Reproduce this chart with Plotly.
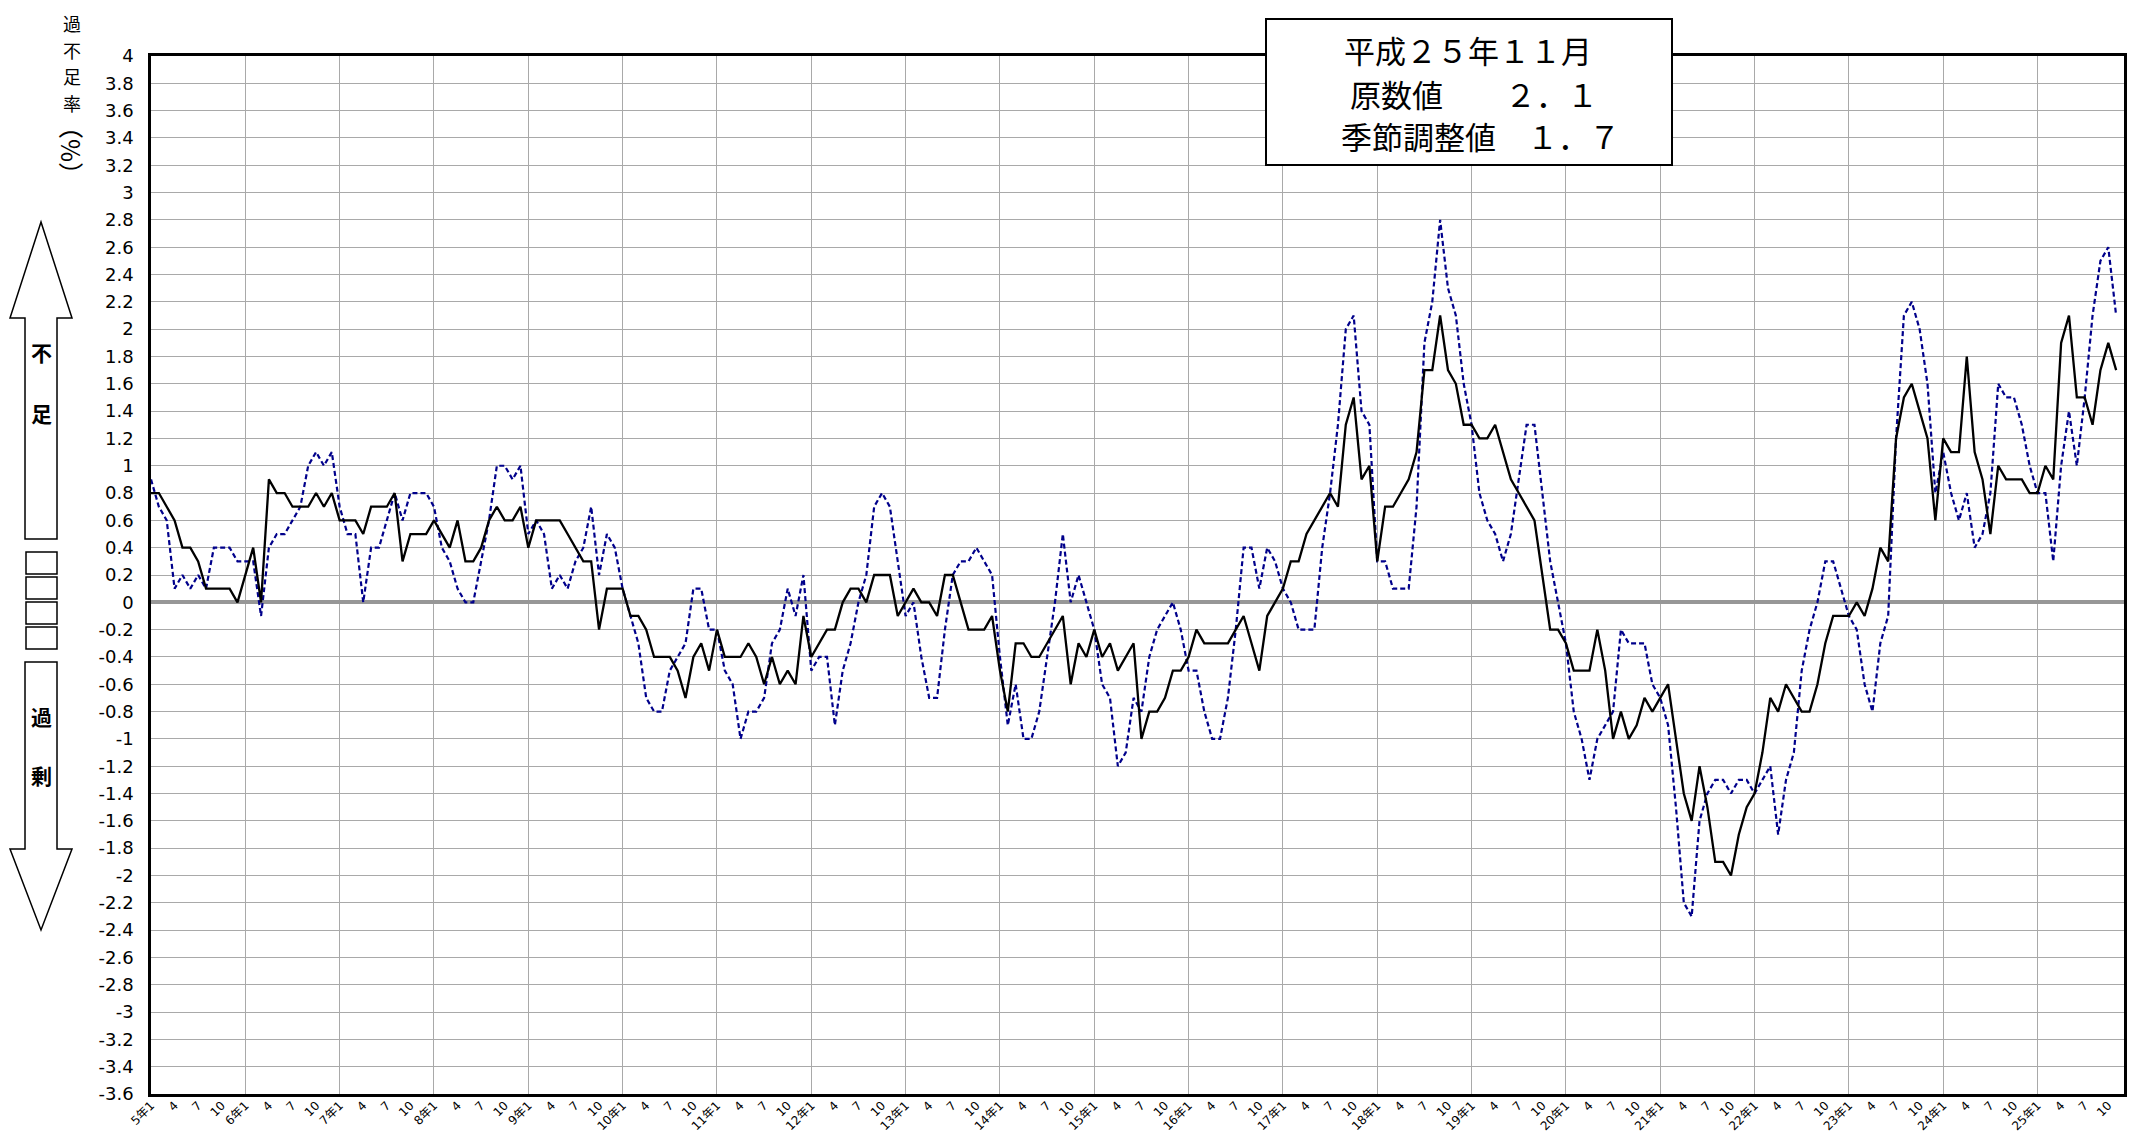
import plotly.graph_objects as go

# ---------------- data (平成5年1月 〜 平成25年11月, monthly) ----------------
YEARS = list(range(5, 26))          # 平成 years
LAST_MONTH = 11                     # data ends 平成25年11月

MONTH_LABELS = [f"{y}年{m}" for y in YEARS for m in range(1, 13)
                if not (y == YEARS[-1] and m > LAST_MONTH)]

# 季節調整値 (solid black)
SEASONAL = [
    0.8, 0.8, 0.7, 0.6, 0.4, 0.4, 0.3, 0.1, 0.1, 0.1, 0.1, 0.0,        # 5年
    0.2, 0.4, 0.0, 0.9, 0.8, 0.8, 0.7, 0.7, 0.7, 0.8, 0.7, 0.8,        # 6年
    0.6, 0.6, 0.6, 0.5, 0.7, 0.7, 0.7, 0.8, 0.3, 0.5, 0.5, 0.5,        # 7年
    0.6, 0.5, 0.4, 0.6, 0.3, 0.3, 0.4, 0.6, 0.7, 0.6, 0.6, 0.7,        # 8年
    0.4, 0.6, 0.6, 0.6, 0.6, 0.5, 0.4, 0.3, 0.3, -0.2, 0.1, 0.1,       # 9年
    0.1, -0.1, -0.1, -0.2, -0.4, -0.4, -0.4, -0.5, -0.7, -0.4, -0.3, -0.5,  # 10年
    -0.2, -0.4, -0.4, -0.4, -0.3, -0.4, -0.6, -0.4, -0.6, -0.5, -0.6, -0.1,  # 11年
    -0.4, -0.3, -0.2, -0.2, 0.0, 0.1, 0.1, 0.0, 0.2, 0.2, 0.2, -0.1,   # 12年
    0.0, 0.1, 0.0, 0.0, -0.1, 0.2, 0.2, 0.0, -0.2, -0.2, -0.2, -0.1,   # 13年
    -0.5, -0.8, -0.3, -0.3, -0.4, -0.4, -0.3, -0.2, -0.1, -0.6, -0.3, -0.4,  # 14年
    -0.2, -0.4, -0.3, -0.5, -0.4, -0.3, -1.0, -0.8, -0.8, -0.7, -0.5, -0.5,  # 15年
    -0.4, -0.2, -0.3, -0.3, -0.3, -0.3, -0.2, -0.1, -0.3, -0.5, -0.1, 0.0,   # 16年
    0.1, 0.3, 0.3, 0.5, 0.6, 0.7, 0.8, 0.7, 1.3, 1.5, 0.9, 1.0,        # 17年
    0.3, 0.7, 0.7, 0.8, 0.9, 1.1, 1.7, 1.7, 2.1, 1.7, 1.6, 1.3,        # 18年
    1.3, 1.2, 1.2, 1.3, 1.1, 0.9, 0.8, 0.7, 0.6, 0.2, -0.2, -0.2,      # 19年
    -0.3, -0.5, -0.5, -0.5, -0.2, -0.5, -1.0, -0.8, -1.0, -0.9, -0.7, -0.8,  # 20年
    -0.7, -0.6, -1.0, -1.4, -1.6, -1.2, -1.5, -1.9, -1.9, -2.0, -1.7, -1.5,  # 21年
    -1.4, -1.1, -0.7, -0.8, -0.6, -0.7, -0.8, -0.8, -0.6, -0.3, -0.1, -0.1,  # 22年
    -0.1, 0.0, -0.1, 0.1, 0.4, 0.3, 1.2, 1.5, 1.6, 1.4, 1.2, 0.6,      # 23年
    1.2, 1.1, 1.1, 1.8, 1.1, 0.9, 0.5, 1.0, 0.9, 0.9, 0.9, 0.8,        # 24年
    0.8, 1.0, 0.9, 1.9, 2.1, 1.5, 1.5, 1.3, 1.7, 1.9, 1.7,             # 25年
]

# 原数値 (dashed navy)
ORIGINAL = [
    0.9, 0.7, 0.6, 0.1, 0.2, 0.1, 0.2, 0.1, 0.4, 0.4, 0.4, 0.3,        # 5年
    0.3, 0.3, -0.1, 0.4, 0.5, 0.5, 0.6, 0.7, 1.0, 1.1, 1.0, 1.1,       # 6年
    0.7, 0.5, 0.5, 0.0, 0.4, 0.4, 0.6, 0.8, 0.6, 0.8, 0.8, 0.8,        # 7年
    0.7, 0.4, 0.3, 0.1, 0.0, 0.0, 0.3, 0.6, 1.0, 1.0, 0.9, 1.0,        # 8年
    0.5, 0.6, 0.5, 0.1, 0.2, 0.1, 0.3, 0.4, 0.7, 0.2, 0.5, 0.4,        # 9年
    0.1, -0.1, -0.3, -0.7, -0.8, -0.8, -0.5, -0.4, -0.3, 0.1, 0.1, -0.2,     # 10年
    -0.2, -0.5, -0.6, -1.0, -0.8, -0.8, -0.7, -0.3, -0.2, 0.1, -0.1, 0.2,    # 11年
    -0.5, -0.4, -0.4, -0.9, -0.5, -0.3, 0.0, 0.2, 0.7, 0.8, 0.7, 0.3,  # 12年
    -0.1, 0.0, -0.4, -0.7, -0.7, -0.2, 0.2, 0.3, 0.3, 0.4, 0.3, 0.2,   # 13年
    -0.4, -0.9, -0.6, -1.0, -1.0, -0.8, -0.4, 0.0, 0.5, 0.0, 0.2, 0.0, # 14年
    -0.2, -0.6, -0.7, -1.2, -1.1, -0.7, -0.8, -0.4, -0.2, -0.1, 0.0, -0.2,   # 15年
    -0.5, -0.5, -0.8, -1.0, -1.0, -0.7, -0.2, 0.4, 0.4, 0.1, 0.4, 0.3, # 16年
    0.1, 0.0, -0.2, -0.2, -0.2, 0.4, 0.8, 1.3, 2.0, 2.1, 1.4, 1.3,     # 17年
    0.3, 0.3, 0.1, 0.1, 0.1, 0.7, 1.9, 2.2, 2.8, 2.3, 2.1, 1.6,        # 18年
    1.3, 0.8, 0.6, 0.5, 0.3, 0.5, 0.9, 1.3, 1.3, 0.8, 0.3, 0.0,        # 19年
    -0.3, -0.8, -1.0, -1.3, -1.0, -0.9, -0.8, -0.2, -0.3, -0.3, -0.3, -0.6,  # 20年
    -0.7, -0.9, -1.5, -2.2, -2.3, -1.6, -1.4, -1.3, -1.3, -1.4, -1.3, -1.3,  # 21年
    -1.4, -1.3, -1.2, -1.7, -1.3, -1.1, -0.5, -0.2, 0.0, 0.3, 0.3, 0.1,      # 22年
    -0.1, -0.2, -0.6, -0.8, -0.3, -0.1, 1.2, 2.1, 2.2, 2.0, 1.6, 0.8,  # 23年
    1.1, 0.8, 0.6, 0.8, 0.4, 0.5, 0.8, 1.6, 1.5, 1.5, 1.3, 1.0,        # 24年
    0.8, 0.8, 0.3, 1.0, 1.4, 1.0, 1.5, 2.1, 2.5, 2.6, 2.1,             # 25年
]

assert len(SEASONAL) == len(MONTH_LABELS) == len(ORIGINAL)

X_IDX = list(range(len(MONTH_LABELS)))
# quarterly tick labels: "5年1", "4", "7", "10", "6年1", ...
X_TICKVALS = [i for i, lab in enumerate(MONTH_LABELS) if int(lab.split("年")[1]) in (1, 4, 7, 10)]
X_TICKTEXT = [MONTH_LABELS[i] if MONTH_LABELS[i].endswith("年1") else MONTH_LABELS[i].split("年")[1]
              for i in X_TICKVALS]
YEAR_STARTS = [i for i, lab in enumerate(MONTH_LABELS) if lab.endswith("年1")]

Y_MIN, Y_MAX = -3.6, 4.0
Y_TICKVALS = [round(Y_MIN + 0.2 * k, 1) for k in range(39)]
Y_TICKTEXT = [f"{v:g}" for v in Y_TICKVALS]

BOX_TEXT = ["平成２５年１１月", "原数値　　２．１", "季節調整値　１．７"]
Y_TITLE_CHARS = ["過", "不", "足", "率"]

# ---------------- layout geometry (pixels) ----------------
W, H = 2139, 1133
L, R, T, B = 151, 2124, 56, 1094


def px(xp):
    return (xp - L) / (R - L)


def py(yp):
    return (B - yp) / (B - T)


FONT = "DejaVu Sans, Noto Sans CJK JP, sans-serif"
JFONT = "Noto Sans CJK JP, sans-serif"
GRID = "#a9a9a9"

fig = go.Figure()
fig.add_trace(go.Scatter(
    x=X_IDX, y=ORIGINAL, mode="lines", name="原数値",
    line=dict(color="#00008b", width=2.2, dash="5px,3px"),
))
fig.add_trace(go.Scatter(
    x=X_IDX, y=SEASONAL, mode="lines", name="季節調整値",
    line=dict(color="black", width=2.3),
))
# empty trace on helper axis (yearly vertical gridlines)
fig.add_trace(go.Scatter(x=[], y=[], xaxis="x2", yaxis="y", showlegend=False, hoverinfo="skip"))


def path(points):
    return "M " + " L ".join(f"{px(a):.5f},{py(b):.5f}" for a, b in points) + " Z"


up_arrow = [(41, 222), (10, 318), (25, 318), (25, 539), (57, 539), (57, 318), (72, 318)]
down_arrow = [(25, 662), (57, 662), (57, 849), (72, 849), (41, 930), (10, 849), (25, 849)]
shapes = [
    dict(type="path", xref="paper", yref="paper", path=path(up_arrow),
         line=dict(color="black", width=1.5), fillcolor="white"),
    dict(type="path", xref="paper", yref="paper", path=path(down_arrow),
         line=dict(color="black", width=1.5), fillcolor="white"),
    # info box
    dict(type="rect", xref="paper", yref="paper",
         x0=px(1266), x1=px(1672), y0=py(19), y1=py(165),
         line=dict(color="black", width=2), fillcolor="white", layer="above"),
]
for top in (552, 577, 602, 627):
    shapes.append(dict(type="rect", xref="paper", yref="paper",
                       x0=px(26), x1=px(57), y0=py(top), y1=py(top + 22),
                       line=dict(color="black", width=1.5), fillcolor="white"))

annotations = []
for k, ch in enumerate(Y_TITLE_CHARS):
    annotations.append(dict(text=ch, xref="paper", yref="paper", x=px(72), y=py(23 + 26.5 * k),
                            xanchor="center", yanchor="middle", showarrow=False,
                            font=dict(family=JFONT, size=18, color="black")))
annotations.append(dict(text="（%）", xref="paper", yref="paper", x=px(72), y=py(150),
                        xanchor="center", yanchor="middle", showarrow=False, textangle=90,
                        font=dict(family=JFONT, size=25, color="black")))
for ch, yy in (("不", 352), ("足", 413), ("過", 716), ("剰", 775)):
    annotations.append(dict(text=f"<b>{ch}</b>", xref="paper", yref="paper", x=px(41), y=py(yy),
                            xanchor="center", yanchor="middle", showarrow=False,
                            font=dict(family=JFONT, size=21, color="black")))
for line, (xc, yc) in zip(BOX_TEXT, ((1468, 50), (1474, 93), (1480, 135))):
    annotations.append(dict(text=line, xref="paper", yref="paper", x=px(xc), y=py(yc),
                            xanchor="center", yanchor="middle", showarrow=False,
                            font=dict(family=JFONT, size=31, color="black")))

fig.update_layout(
    width=W, height=H,
    margin=dict(l=L, r=W - R, t=T, b=H - B, pad=0),
    paper_bgcolor="white", plot_bgcolor="white",
    showlegend=False,
    font=dict(family=FONT, color="black"),
    xaxis=dict(
        range=[0, len(MONTH_LABELS)], tickmode="array",
        tickvals=X_TICKVALS, ticktext=X_TICKTEXT, tickangle=-45,
        tickfont=dict(family=FONT, size=12, color="black"),
        ticklabelstandoff=-3,
        showgrid=False, zeroline=False, ticks="",
        showline=True, mirror=True, linecolor="black", linewidth=2.5,
        automargin=False,
    ),
    xaxis2=dict(
        overlaying="x", anchor="y", side="bottom",
        range=[0, len(MONTH_LABELS)], tickmode="array", tickvals=YEAR_STARTS,
        showticklabels=False, ticks="", showgrid=True, gridcolor=GRID, gridwidth=1,
        zeroline=False, showline=False, automargin=False,
    ),
    yaxis=dict(
        range=[Y_MIN, Y_MAX], tickmode="array",
        tickvals=Y_TICKVALS, ticktext=Y_TICKTEXT,
        tickfont=dict(family=FONT, size=18, color="black"),
        ticklabelstandoff=11,
        showgrid=True, gridcolor=GRID, gridwidth=1,
        zeroline=True, zerolinecolor="#979797", zerolinewidth=4,
        ticks="", showline=True, mirror=True, linecolor="black", linewidth=2.5,
        automargin=False,
    ),
    shapes=shapes,
    annotations=annotations,
)

fig.write_html(
    "out.html",
    config={"displayModeBar": False},
    post_script="document.body.style.margin='0';document.body.style.overflow='hidden';",
)
